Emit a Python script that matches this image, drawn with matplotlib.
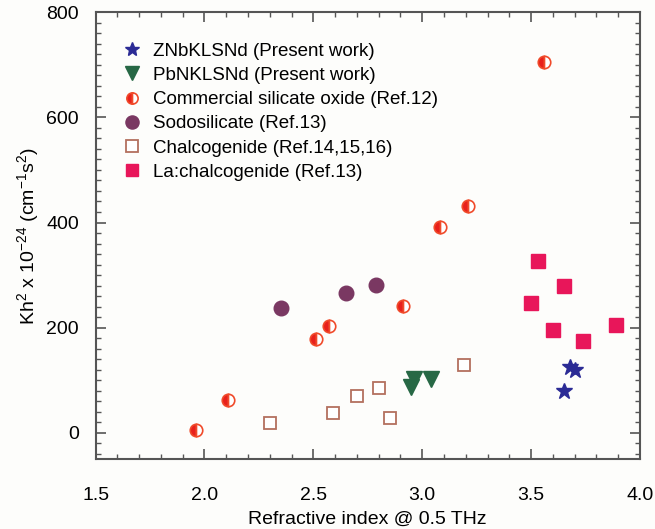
import matplotlib.pyplot as plt
from matplotlib.ticker import MultipleLocator

plt.rcParams['font.family'] = ['Liberation Sans', 'DejaVu Sans']
plt.rcParams['mathtext.fontset'] = 'custom'
plt.rcParams['mathtext.rm'] = 'Liberation Sans'
plt.rcParams['mathtext.it'] = 'Liberation Sans'
plt.rcParams['mathtext.default'] = 'regular'

# ZNbKLSNd (Present work)
znb_x = [3.68, 3.70, 3.65]
znb_y = [126, 119, 80]
# PbNKLSNd (Present work)
pbn_x = [2.95, 2.96, 3.04]
pbn_y = [88, 103, 103]
# Commercial silicate oxide (Ref.12)
com_x = [1.96, 2.11, 2.51, 2.57, 2.91, 3.08, 3.21, 3.56]
com_y = [6, 63, 178, 203, 241, 392, 432, 706]
# Sodosilicate (Ref.13)
sodo_x = [2.35, 2.65, 2.79]
sodo_y = [237, 266, 281]
# Chalcogenide (Ref.14,15,16)
chal_x = [2.30, 2.59, 2.70, 2.80, 2.85, 3.19]
chal_y = [19, 38, 71, 86, 29, 130]
# La:chalcogenide (Ref.13)
la_x = [3.53, 3.65, 3.50, 3.60, 3.74, 3.89]
la_y = [327, 279, 247, 195, 174, 205]

fig = plt.figure(figsize=(6.55, 5.29), dpi=100)
fig.patch.set_facecolor('#fdfdfb')
ax = fig.add_axes([0.146, 0.132, 0.831, 0.845])
ax.set_facecolor('#fdfdfb')

ax.plot(znb_x, znb_y, ls='none', marker='*', ms=12, color='#2b2b95', label='ZNbKLSNd (Present work)')
ax.plot(pbn_x, pbn_y, ls='none', marker='v', ms=11, color='#276845', label='PbNKLSNd (Present work)')
ax.plot(com_x, com_y, ls='none', marker='o', ms=9, fillstyle='left', color='#e8201c',
        markerfacecoloralt='white', markeredgecolor='#f04a2a', mew=1.2,
        label='Commercial silicate oxide (Ref.12)')
ax.plot(sodo_x, sodo_y, ls='none', marker='o', ms=10.5, color='#7a3862', label='Sodosilicate (Ref.13)')
ax.plot(chal_x, chal_y, ls='none', marker='s', ms=9, markerfacecolor='white',
        markeredgecolor='#b3705e', mew=1.3, label='Chalcogenide (Ref.14,15,16)')
ax.plot(la_x, la_y, ls='none', marker='s', ms=9.5, color='#e8165a', label='La:chalcogenide (Ref.13)')

ax.set_xlim(1.5, 4.0)
ax.set_ylim(-50, 800)
ax.xaxis.set_major_locator(MultipleLocator(0.5))
ax.xaxis.set_minor_locator(MultipleLocator(0.1))
ax.set_yticks([0, 200, 400, 600, 800])
ax.yaxis.set_minor_locator(MultipleLocator(20))
ax.xaxis.set_major_formatter(plt.FormatStrFormatter('%.1f'))
ax.tick_params(which='both', direction='in', top=True, right=True, labelsize=14, color='#555555')
ax.tick_params(which='major', length=7, width=1.2)
ax.tick_params(which='minor', length=3.5, width=1)
ax.tick_params(axis='x', which='major', pad=20)
ax.tick_params(axis='y', which='major', pad=12)
for s in ax.spines.values():
    s.set_color('#555555')
    s.set_linewidth(1.5)

ax.set_xlabel('Refractive index @ 0.5 THz', fontsize=14, labelpad=5)
ax.set_ylabel('Kh$^2$ x 10$^{-24}$ (cm$^{-1}$s$^2$)', fontsize=14, labelpad=4)

ax.legend(loc='upper left', frameon=False, fontsize=13.5, bbox_to_anchor=(0.01, 0.97),
          handletextpad=0.35, labelspacing=0.38, markerscale=0.9, handlelength=1.5)

fig.savefig('out.png', dpi=100, facecolor=fig.get_facecolor())
